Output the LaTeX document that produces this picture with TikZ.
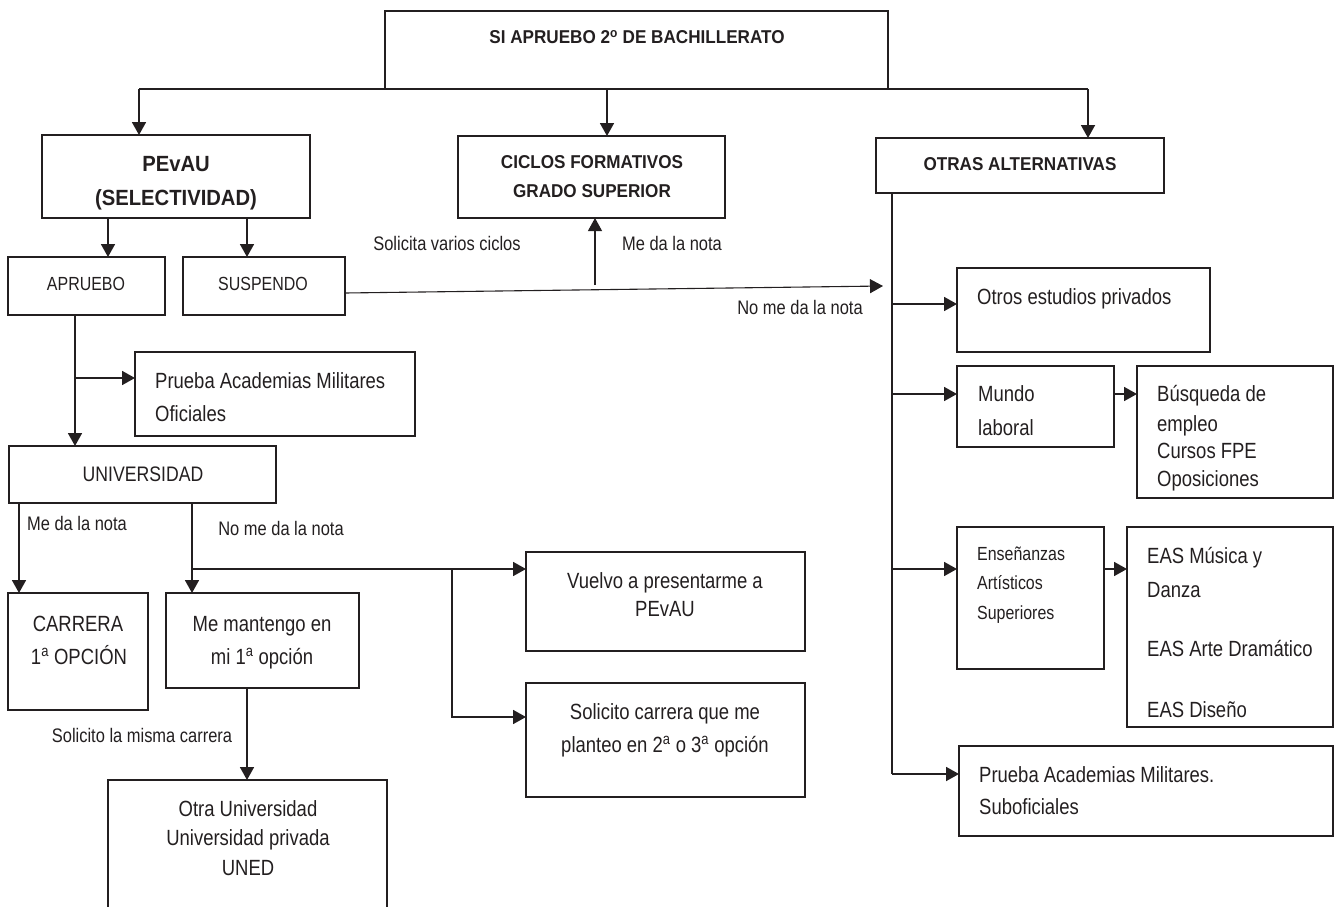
\documentclass[tikz,border=0pt]{standalone}
\usepackage{fontspec}
\setmainfont{Liberation Sans}[FakeStretch=0.84]
\newfontfamily\bfam{Liberation Sans}[FakeStretch=0.92]
\usetikzlibrary{arrows.meta}
\definecolor{ink}{HTML}{231F20}
\tikzset{
  box/.style={draw=ink, line width=1.8pt, anchor=north west, inner sep=0pt, outer sep=0pt},
  con/.style={draw=ink, line width=1.8pt},
  arr/.style={con, -{Triangle[length=13pt,width=14pt]}},
  thinl/.style={draw=ink, line width=1.1pt},
  tarr/.style={thinl, -{Triangle[length=13pt,width=14pt]}},
  tx/.style={text=ink, inner sep=0pt, anchor=base},
  txl/.style={tx, anchor=base west},
  big/.style={font=\fontsize{22}{26}\selectfont},
  mid/.style={font=\fontsize{19}{23}\selectfont},
  uni/.style={font=\fontsize{21}{25}\selectfont},
  lab/.style={font=\fontsize{19.6}{23}\selectfont},
  bld/.style={font=\bfam\bfseries\fontsize{18.6}{22}\selectfont},
  bldbig/.style={font=\bfam\bfseries\fontsize{22}{26}\selectfont},
}
\newcommand\mybox[5]{\node[box, minimum width={#4-#2}, minimum height={#5-#3}] (#1) at (#2,#3) {};}
\begin{document}
\begin{tikzpicture}[x=1pt,y=-1pt]
\useasboundingbox (0,0) rectangle (1341,907);
\clip (0,0) rectangle (1341,907);
% boxes
\mybox{top}{385}{11}{888}{89}
\mybox{pevau}{42}{135}{310}{218}
\mybox{ciclos}{458}{136}{725}{218}
\mybox{otras}{876}{138}{1164}{193}
\mybox{apr}{8}{257}{165}{315}
\mybox{sus}{183}{257}{345}{315}
\mybox{mil1}{135}{352}{415}{436}
\mybox{univ}{9}{446}{276}{503}
\mybox{carr}{8}{593}{148}{710}
\mybox{mant}{166}{593}{359}{688}
\mybox{otra}{108}{780}{387}{912}
\mybox{vuelvo}{526}{552}{805}{651}
\mybox{solic}{526}{683}{805}{797}
\mybox{otros}{957}{268}{1210}{352}
\mybox{mundo}{957}{366}{1114}{447}
\mybox{busq}{1137}{366}{1333}{498}
\mybox{ens}{957}{527}{1104}{669}
\mybox{eas}{1127}{527}{1333}{727}
\mybox{mil2}{959}{746}{1333}{836}
% texts
\node[tx,bld] (t1) at (637,43.7) {SI APRUEBO 2\textsuperscript{o} DE BACHILLERATO};
\node[tx,bldbig] (t2) at (176,171) {PEvAU};
\node[tx,bldbig] (t3) at (176,205) {(SELECTIVIDAD)};
\node[tx,bld] (t4) at (592,168) {CICLOS FORMATIVOS};
\node[tx,bld] (t5) at (592,197) {GRADO SUPERIOR};
\node[tx,bld] (t6) at (1020,170) {OTRAS ALTERNATIVAS};
\node[tx,mid] (t7) at (86,290) {APRUEBO};
\node[tx,mid] (t8) at (263,290) {SUSPENDO};
\node[tx,lab] (t9) at (447,250) {Solicita varios ciclos};
\node[tx,lab] (t10) at (672,250) {Me da la nota};
\node[tx,lab] (t11) at (800,314) {No me da la nota};
\node[txl,big] (t12) at (155,388) {Prueba Academias Militares};
\node[txl,big] (t13) at (155,421) {Oficiales};
\node[tx,uni] (t14) at (143,481.5) {UNIVERSIDAD};
\node[tx,lab] (t15) at (77,530) {Me da la nota};
\node[tx,lab] (t16) at (281,535) {No me da la nota};
\node[tx,big] (t17) at (78,631) {CARRERA};
\node[tx,big] (t18) at (79,664) {1\textsuperscript{a} OPCIÓN};
\node[tx,big] (t19) at (262,631) {Me mantengo en};
\node[tx,big] (t20) at (262,664) {mi 1\textsuperscript{a} opción};
\node[tx,lab] (t21) at (142,742) {Solicito la misma carrera};
\node[tx,big] (t22) at (248,816) {Otra Universidad};
\node[tx,big] (t23) at (248,845) {Universidad privada};
\node[tx,big] (t24) at (248,875) {UNED};
\node[tx,big] (t25) at (665,588) {Vuelvo a presentarme a};
\node[tx,big] (t26) at (665,616) {PEvAU};
\node[tx,big] (t27) at (665,719) {Solicito carrera que me};
\node[tx,big] (t28) at (665,752) {planteo en 2\textsuperscript{a} o 3\textsuperscript{a} opción};
\node[txl,big] (t29) at (977,304) {Otros estudios privados};
\node[txl,big] (t30) at (978,401) {Mundo};
\node[txl,big] (t31) at (978,435) {laboral};
\node[txl,big] (t32) at (1157,401) {Búsqueda de};
\node[txl,big] (t33) at (1157,431) {empleo};
\node[txl,big] (t34) at (1157,458) {Cursos FPE};
\node[txl,big] (t35) at (1157,486) {Oposiciones};
\node[txl,mid] (t36) at (977,560) {Enseñanzas};
\node[txl,mid] (t37) at (977,589) {Artísticos};
\node[txl,mid] (t38) at (977,619) {Superiores};
\node[txl,big] (t39) at (1147,563) {EAS Música y};
\node[txl,big] (t40) at (1147,597) {Danza};
\node[txl,big] (t41) at (1147,656) {EAS Arte Dramático};
\node[txl,big] (t42) at (1147,717) {EAS Diseño};
\node[txl,big] (t43) at (979,782) {Prueba Academias Militares.};
\node[txl,big] (t44) at (979,814) {Suboficiales};
% connectors
\coordinate (jL) at (139,89);
\coordinate (jR) at (1088,89);
\coordinate (xc) at (607,0);
\draw[con] (jL) -- (jR);
\draw[arr] (jL) -- (pevau.north -| jL);
\draw[arr] (top.south -| xc) -- (ciclos.north -| xc);
\draw[arr] (jR) -- (otras.north -| jR);
\coordinate (xa) at (108,0);
\coordinate (xs) at (247,0);
\draw[arr] (pevau.south -| xa) -- (apr.north -| xa);
\draw[arr] (pevau.south -| xs) -- (sus.north -| xs);
\coordinate (sy) at (0,293);
\coordinate (nN) at (883,286);
\coordinate (cU) at (595,285);
\draw[tarr] (sus.east |- sy) -- (nN);
\draw[tarr] (cU) -- (ciclos.south -| cU);
\coordinate (ax) at (75,0);
\coordinate (ab) at (75,378);
\draw[arr] (apr.south -| ax) -- (univ.north -| ax);
\draw[arr] (ab) -- (mil1.west |- ab);
\coordinate (ux1) at (19,0);
\coordinate (ux2) at (192,0);
\coordinate (ub) at (192,569);
\coordinate (ub2) at (452,569);
\coordinate (ub3) at (452,717);
\draw[arr] (univ.south -| ux1) -- (carr.north -| ux1);
\draw[arr] (univ.south -| ux2) -- (mant.north -| ux2);
\draw[arr] (ub) -- (vuelvo.west |- ub);
\draw[arr] (ub2) -- (ub3) -- (solic.west |- ub3);
\draw[arr] (mant.south -| xs) -- (otra.north -| xs);
\coordinate (vx) at (892,0);
\coordinate (vb) at (892,774);
\coordinate (y1) at (0,304);
\coordinate (y2) at (0,394);
\coordinate (y3) at (0,569);
\draw[con] (otras.south -| vx) -- (vb);
\draw[arr] (vb) -- (mil2.west |- vb);
\draw[arr] (vx |- y1) -- (otros.west |- y1);
\draw[arr] (vx |- y2) -- (mundo.west |- y2);
\draw[arr] (vx |- y3) -- (ens.west |- y3);
\draw[arr] (mundo.east |- y2) -- (busq.west |- y2);
\draw[arr] (ens.east |- y3) -- (eas.west |- y3);
\end{tikzpicture}
\end{document}
